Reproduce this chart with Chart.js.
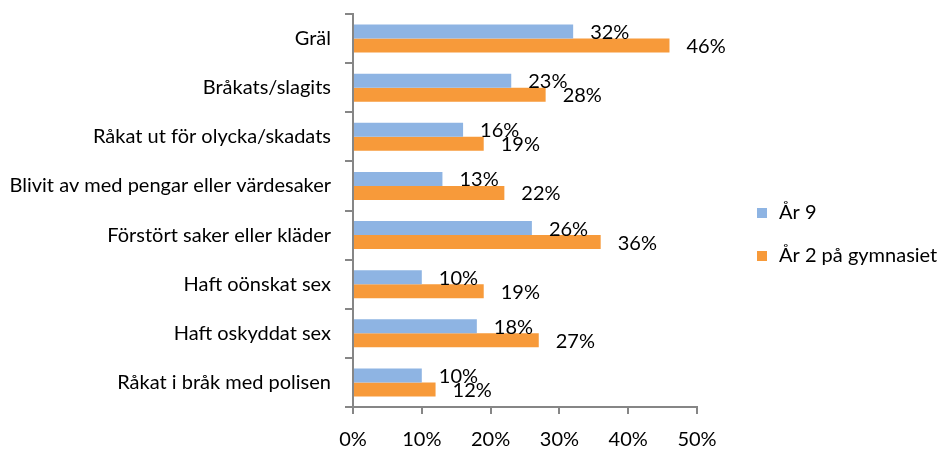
<!DOCTYPE html>
<html>
<head>
<meta charset="utf-8">
<script src="https://cdn.jsdelivr.net/npm/chart.js@4.4.1/dist/chart.umd.min.js"></script>
<style>
  html, body { margin: 0; padding: 0; background: #ffffff; }
  #wrap { width: 941px; height: 450px; }
</style>
</head>
<body>
<div id="wrap"><canvas id="chart"></canvas></div>
<script>
var categories = [
    'Gräl',
    'Bråkats/slagits',
    'Råkat ut för olycka/skadats',
    'Blivit av med pengar eller värdesaker',
    'Förstört saker eller kläder',
    'Haft oönskat sex',
    'Haft oskyddat sex',
    'Råkat i bråk med polisen'
];
var year9 = [32, 23, 16, 13, 26, 10, 18, 10];
var year2Gym = [46, 28, 19, 22, 36, 19, 27, 12];
var xTicks = [0, 10, 20, 30, 40, 50];

var fontFamily = 'Lato';
var fontSize = 20;
var axisColor = '#868686';

// value labels just right of each bar end
var valueLabels = {
    id: 'valueLabels',
    afterDatasetsDraw: function (chart) {
        var ctx = chart.ctx;
        ctx.save();
        ctx.font = fontSize + 'px ' + fontFamily;
        ctx.fillStyle = '#000000';
        ctx.textAlign = 'left';
        ctx.textBaseline = 'middle';
        chart.data.datasets.forEach(function (ds, i) {
            var meta = chart.getDatasetMeta(i);
            meta.data.forEach(function (bar, j) {
                ctx.fillText(ds.data[j] + '%', bar.x + 17, bar.y + 1);
            });
        });
        ctx.restore();
    }
};

// legend to the right of the plot, drawn from the datasets
var sideLegend = {
    id: 'sideLegend',
    afterDraw: function (chart) {
        var ctx = chart.ctx;
        var area = chart.chartArea;
        var x = area.right + 60;
        var y = (area.top + area.bottom) / 2 + 2.5;
        ctx.save();
        ctx.font = fontSize + 'px ' + fontFamily;
        ctx.textAlign = 'left';
        ctx.textBaseline = 'middle';
        chart.data.datasets.forEach(function (ds, i) {
            var cy = y + i * 43;
            ctx.fillStyle = ds.backgroundColor;
            ctx.fillRect(x, cy - 5, 10, 10);
            ctx.fillStyle = '#000000';
            ctx.fillText(ds.label, x + 22, cy);
        });
        ctx.restore();
    }
};

new Chart(document.getElementById('chart'), {
    type: 'bar',
    data: {
        labels: categories,
        datasets: [{
            label: 'År 9',
            data: year9,
            backgroundColor: '#8EB4E3',
            categoryPercentage: 0.57,
            barPercentage: 1.0
        }, {
            label: 'År 2 på gymnasiet',
            data: year2Gym,
            backgroundColor: '#F79A3A',
            categoryPercentage: 0.57,
            barPercentage: 1.0
        }]
    },
    options: {
        indexAxis: 'y',
        responsive: true,
        maintainAspectRatio: false,
        animation: false,
        layout: {
            padding: { top: 14, right: 244, bottom: 0, left: 0 }
        },
        plugins: {
            legend: { display: false },
            tooltip: { enabled: false }
        },
        scales: {
            x: {
                min: 0,
                max: 50,
                afterBuildTicks: function (scale) {
                    scale.ticks = xTicks.map(function (v) { return { value: v }; });
                },
                afterFit: function (scale) {
                    scale.height = 43;
                    scale.paddingLeft = 0;
                    scale.paddingRight = 0;
                },
                grid: {
                    drawOnChartArea: false,
                    drawTicks: true,
                    tickLength: 7,
                    color: axisColor,
                    lineWidth: 2
                },
                border: { color: axisColor, width: 2 },
                ticks: {
                    padding: 14,
                    color: '#000000',
                    font: { family: fontFamily, size: fontSize },
                    callback: function (v) { return v + '%'; }
                }
            },
            y: {
                afterFit: function (scale) {
                    scale.width = 353;
                    scale.paddingTop = 0;
                    scale.paddingBottom = 0;
                },
                grid: {
                    offset: true,
                    drawOnChartArea: false,
                    drawTicks: true,
                    tickLength: 8,
                    color: axisColor,
                    lineWidth: 2
                },
                border: { color: axisColor, width: 2 },
                ticks: {
                    padding: 14,
                    color: '#000000',
                    font: { family: fontFamily, size: fontSize }
                }
            }
        }
    },
    plugins: [valueLabels, sideLegend]
});
</script>
</body>
</html>
